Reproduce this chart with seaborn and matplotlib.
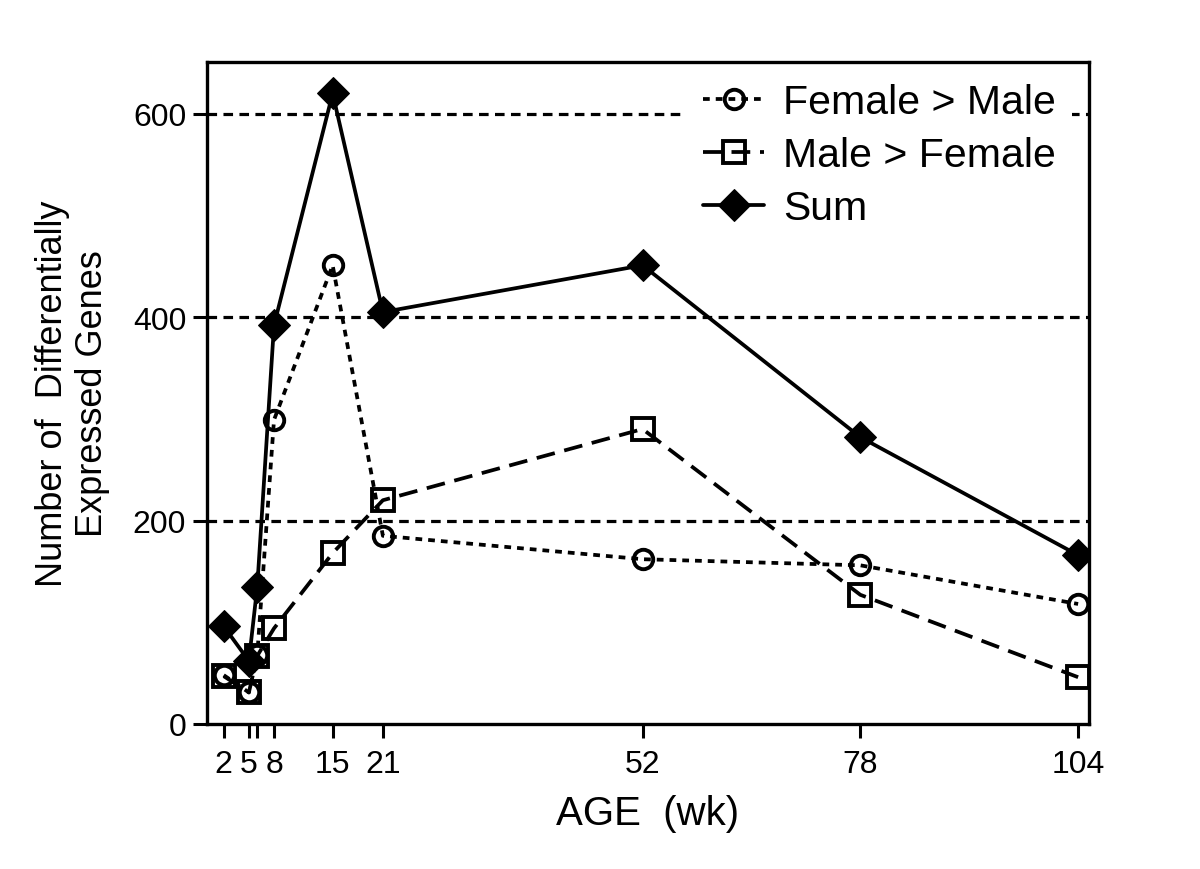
import numpy as np
import pandas as pd
from matplotlib import pyplot as plt

import seaborn as sns

# age in weeks
age = [2, 5, 6, 8, 15, 21, 52, 78, 104]
female_gt_male = [48, 31, 68, 299, 451, 185, 162, 156, 118]
male_gt_female = [47, 31, 67, 94, 168, 220, 290, 127, 46]
total = [96, 62, 135, 392, 620, 405, 451, 282, 166]

xtick_vals = [2, 5, 6, 8, 15, 21, 52, 78, 104]
xtick_labels = ['2', '5', '', '8', '15', '21', '52', '78', '104']
ytick_vals = [0, 200, 400, 600]

sns.set_style("ticks")
plt.rcParams['font.family'] = ['Liberation Sans', 'DejaVu Sans']
for key in ['text.color', 'axes.labelcolor', 'xtick.color', 'ytick.color',
            'xtick.labelcolor', 'ytick.labelcolor']:
    plt.rcParams[key] = 'black'

fig = plt.figure(figsize=(12, 8.7), dpi=100)
ax = fig.add_axes([0.1725, 0.1667, 0.735, 0.761])

df = pd.DataFrame({'age': age, 'fm': female_gt_male,
                   'mf': male_gt_female, 'sum': total})

for yv in ytick_vals[1:]:
    ax.axhline(yv, color='black', lw=2.3, linestyle=(0, (3, 2)), zorder=1)

lw = 2.7
sns.lineplot(data=df, x='age', y='fm', ax=ax, color='black', lw=lw,
             linestyle=(0, (1.8, 1.6)), marker='o', markersize=14,
             markerfacecolor='none', markeredgecolor='black',
             markeredgewidth=2.8, label='Female > Male', zorder=3)
sns.lineplot(data=df, x='age', y='mf', ax=ax, color='black', lw=lw,
             linestyle=(0, (5, 2.6)), marker='s', markersize=16,
             markerfacecolor='none', markeredgecolor='black',
             markeredgewidth=2.8, label='Male > Female', zorder=3)
sns.lineplot(data=df, x='age', y='sum', ax=ax, color='black', lw=lw,
             linestyle='-', marker='D', markersize=16,
             markerfacecolor='black', markeredgecolor='black',
             label='Sum', zorder=4)

ax.set_xlim(0, 105.3)
ax.set_ylim(0, 651)
ax.set_xticks(xtick_vals)
ax.set_xticklabels(xtick_labels)
ax.set_yticks(ytick_vals)
ax.tick_params(axis='both', direction='out', length=10, width=2.2,
               labelsize=23, color='black')
ax.tick_params(axis='x', pad=8)
ax.tick_params(axis='y', pad=5)
for s in ax.spines.values():
    s.set_linewidth(2.4)
    s.set_color('black')

ax.set_xlabel('AGE  (wk)', fontsize=29, labelpad=11)
ax.set_ylabel('Number of  Differentially\nExpressed Genes', fontsize=26,
              linespacing=1.2)
ax.yaxis.set_label_coords(-0.11, 0.5)

leg = ax.legend(loc='upper right', bbox_to_anchor=(0.99, 1.005), fontsize=29.5,
                frameon=True, handlelength=1.5, handletextpad=0.45,
                labelspacing=0.37, borderaxespad=0.2)
leg.get_frame().set_edgecolor('none')
leg.get_frame().set_facecolor('white')
leg.get_frame().set_alpha(1)

fig.savefig('out.png', dpi=100)
